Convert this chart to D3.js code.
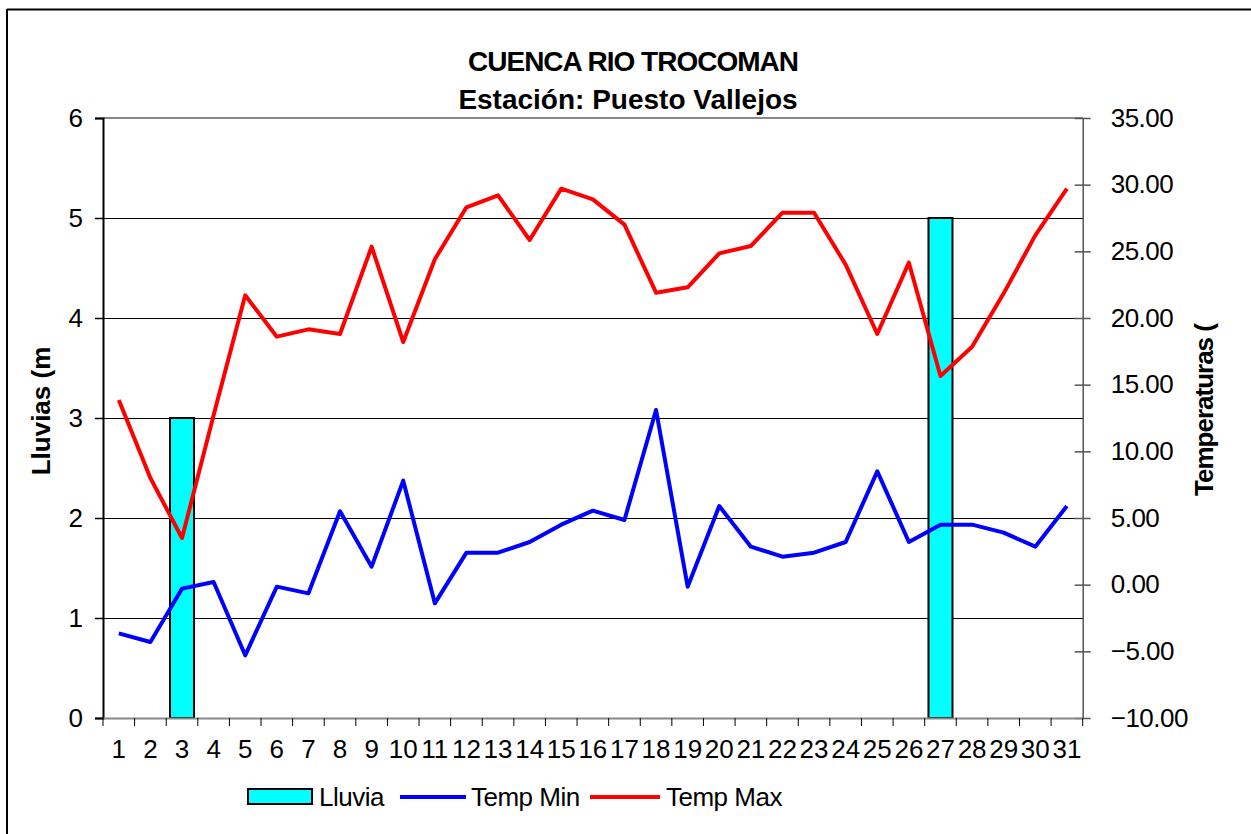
<!DOCTYPE html>
<html>
<head>
<meta charset="utf-8">
<script src="https://cdn.jsdelivr.net/npm/d3@7"></script>
<style>
  body { margin: 0; background: #fff; }
  text { font-family: "Liberation Sans", Arial, sans-serif; }
</style>
</head>
<body>
<div id="chart"></div>
<script>
  // datos
  var dias = d3.range(1, 32).map(String);
  var lluvia = [0, 0, 3, 0, 0, 0, 0, 0, 0, 0, 0, 0, 0, 0, 0, 0, 0, 0, 0, 0, 0, 0, 0, 0, 0, 0, 5, 0, 0, 0, 0];
  var tempMin = [-3.65, -4.3, -0.3, 0.2, -5.3, -0.15, -0.65, 5.5, 1.35, 7.8, -1.4, 2.4, 2.4, 3.2, 4.5,
    5.55, 4.85, 13.1, -0.15, 5.9, 2.85, 2.1, 2.4, 3.2, 8.5, 3.2, 4.5, 4.5, 3.9, 2.85, 5.9];
  var tempMax = [13.85, 8.0, 3.5, 12.7, 21.7, 18.6, 19.15, 18.8, 25.35, 18.2, 24.4, 28.3, 29.2, 25.85, 29.7,
    28.9, 27.0, 21.9, 22.3, 24.85, 25.4, 27.9, 27.9, 24.0, 18.8, 24.15, 15.65, 17.85, 21.85, 26.2, 29.7];
  var lluviaTicks = [0, 1, 2, 3, 4, 5, 6];
  var tempTicks = [-10, -5, 0, 5, 10, 15, 20, 25, 30, 35];

  var W = 1251, H = 834,
    mL = 103, mR = 1082.7, mT = 118, mB = 718;

  var svg = d3.select('#chart').append('svg')
    .attr('width', W).attr('height', H);

  // marco exterior
  svg.append('line').attr('x1', 7).attr('x2', W).attr('y1', 9.5).attr('y2', 9.5)
    .attr('stroke', '#000').attr('stroke-width', 2);
  svg.append('line').attr('x1', 7).attr('x2', 7).attr('y1', 9).attr('y2', H)
    .attr('stroke', '#000').attr('stroke-width', 2);

  var x = d3.scaleBand().domain(dias).range([mL, mR]).paddingInner(0.24).paddingOuter(0.12);
  var xc = d3.scaleBand().domain(dias).range([mL, mR]);
  var yL = d3.scaleLinear().domain([0, 6]).range([mB, mT]);
  var yR = d3.scaleLinear().domain([-10, 35]).range([mB, mT]);

  // grilla
  svg.append('g').selectAll('line').data(lluviaTicks.slice(1))
    .enter().append('line')
    .attr('x1', mL).attr('x2', mR)
    .attr('y1', function (d) { return yL(d); })
    .attr('y2', function (d) { return yL(d); })
    .attr('stroke', function (d) { return d === 6 ? '#888' : '#000'; })
    .attr('stroke-width', function (d) { return d === 6 ? 2 : 1; })
    .attr('shape-rendering', 'crispEdges');

  // barras de lluvia
  svg.append('g').selectAll('rect')
    .data(lluvia.map(function (v, i) { return { dia: dias[i], v: v }; }).filter(function (d) { return d.v > 0; }))
    .enter().append('rect')
    .attr('x', function (d) { return x(d.dia); })
    .attr('width', x.bandwidth())
    .attr('y', function (d) { return yL(d.v); })
    .attr('height', function (d) { return yL(0) - yL(d.v); })
    .attr('fill', '#00FFFF')
    .attr('stroke', '#000')
    .attr('stroke-width', 2);

  // lineas de temperatura
  function linea(valores) {
    return d3.line()
      .x(function (d, i) { return xc(dias[i]) + xc.bandwidth() / 2; })
      .y(function (d) { return yR(d); })(valores);
  }
  svg.append('path').attr('d', linea(tempMin))
    .attr('fill', 'none').attr('stroke', '#0000FF').attr('stroke-width', 4)
    .attr('stroke-linejoin', 'round');
  svg.append('path').attr('d', linea(tempMax))
    .attr('fill', 'none').attr('stroke', '#FF0000').attr('stroke-width', 4)
    .attr('stroke-linejoin', 'round');

  // eje izquierdo
  var axL = svg.append('g').attr('transform', 'translate(' + mL + ',0)')
    .call(d3.axisLeft(yL).tickValues(lluviaTicks).tickSize(8).tickPadding(12).tickFormat(d3.format('d')));
  axL.select('.domain').attr('stroke', '#000').attr('stroke-width', 2);
  axL.selectAll('.tick line').attr('stroke', '#000').attr('stroke-width', 1.5);
  axL.selectAll('text').attr('font-size', 26).attr('fill', '#000')
    .style('font-family', '"Liberation Sans", Arial, sans-serif');

  // eje derecho
  var axR = svg.append('g').attr('transform', 'translate(' + mR + ',0)')
    .call(d3.axisRight(yR).tickValues(tempTicks).tickSizeInner(8).tickSizeOuter(0).tickPadding(20).tickFormat(d3.format('.2f')));
  axR.select('.domain').attr('stroke', '#555').attr('stroke-width', 1.5);
  axR.selectAll('.tick line').attr('x1', -8).attr('stroke', '#555').attr('stroke-width', 1.5);
  axR.selectAll('text').attr('font-size', 26).attr('fill', '#000').attr('letter-spacing', -0.5)
    .style('font-family', '"Liberation Sans", Arial, sans-serif');

  // eje x
  var axX = svg.append('g').attr('transform', 'translate(0,' + mB + ')')
    .call(d3.axisBottom(xc).tickSize(0).tickPadding(22));
  axX.select('.domain').attr('stroke', '#888').attr('stroke-width', 2);
  axX.selectAll('text').attr('font-size', 26).attr('fill', '#000')
    .style('font-family', '"Liberation Sans", Arial, sans-serif');
  svg.append('g').selectAll('line').data(d3.range(0, 32))
    .enter().append('line')
    .attr('x1', function (d) { return mL + d * xc.step(); })
    .attr('x2', function (d) { return mL + d * xc.step(); })
    .attr('y1', mB).attr('y2', mB + 8)
    .attr('stroke', '#000').attr('stroke-width', 1);

  // titulos
  svg.append('text').attr('x', 633).attr('y', 71).attr('text-anchor', 'middle')
    .attr('font-size', 28).attr('font-weight', 'bold').attr('letter-spacing', -1)
    .text('CUENCA RIO TROCOMAN');
  svg.append('text').attr('x', 628).attr('y', 109).attr('text-anchor', 'middle')
    .attr('font-size', 28).attr('font-weight', 'bold')
    .text('Estación: Puesto Vallejos');
  svg.append('text').attr('transform', 'translate(50,411) rotate(-90)').attr('text-anchor', 'middle')
    .attr('font-size', 26).attr('font-weight', 'bold')
    .text('Lluvias (m');
  svg.append('text').attr('transform', 'translate(1213,410) rotate(-90)').attr('text-anchor', 'middle')
    .attr('font-size', 26).attr('font-weight', 'bold').attr('letter-spacing', -1)
    .text('Temperaturas (');

  // leyenda
  var leg = svg.append('g').attr('transform', 'translate(0,797)');
  leg.append('rect').attr('x', 248).attr('y', -8).attr('width', 64).attr('height', 15)
    .attr('fill', '#00FFFF').attr('stroke', '#000').attr('stroke-width', 2);
  leg.append('line').attr('x1', 400).attr('x2', 466).attr('stroke', '#0000FF').attr('stroke-width', 4);
  leg.append('line').attr('x1', 590).attr('x2', 660).attr('stroke', '#FF0000').attr('stroke-width', 4);
  [['Lluvia', 319], ['Temp Min', 471], ['Temp Max', 666]].forEach(function (t) {
    leg.append('text').attr('x', t[1]).attr('y', 9).attr('font-size', 26).attr('letter-spacing', -0.5)
      .text(t[0]);
  });
</script>
</body>
</html>
